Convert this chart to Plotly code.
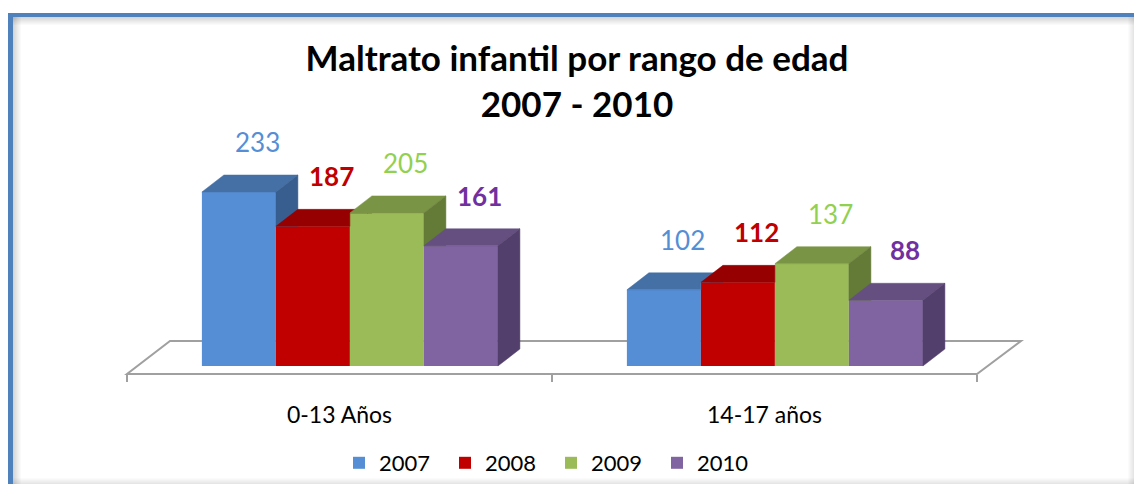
import plotly.graph_objects as go

# ---------------- data ----------------
categories = ["0-13 Años", "14-17 años"]
years = ["2007", "2008", "2009", "2010"]
v2007 = [233, 102]
v2008 = [187, 112]
v2009 = [205, 137]
v2010 = [161, 88]
series = [v2007, v2008, v2009, v2010]

front_colors = ["#558ED5", "#C00000", "#9BBB59", "#8064A2"]
top_colors = ["#4470A6", "#960000", "#7A9445", "#654F80"]
side_colors = ["#375E8F", "#7F0000", "#647A37", "#533F6B"]
label_colors = ["#558ED5", "#C00000", "#92D050", "#7030A0"]
label_bold = [False, True, False, True]

title_text = "Maltrato infantil por rango de edad<br>2007 - 2010"
FONT = "Lato"

# ---------------- layout geometry ----------------
W, H = 1134, 484
ml, mr, mt, mb = 20, 14, 130, 110
pw, ph = W - ml - mr, H - mt - mb
px_x = 425.0            # pixels per category slot
px_y = 174.0 / 233.0    # pixels per unit
x_left = -0.5 - (127 - ml) / px_x
x_right = x_left + pw / px_x
y_bottom = -(374 - 366) / px_y
y_top = y_bottom + ph / px_y

bw = 74 / px_x          # bar width
shift = 10.4 / px_x     # bars sit a bit back on the floor
ddx = 22 / px_x         # bar depth (x)
ddy = 17 / px_y         # bar depth (y)


def xp(px):
    return (px - ml) / pw


def yp(py):
    return (H - mb - py) / ph


def clip_half(poly, c):
    """keep part of polygon with y >= c"""
    out = []
    n = len(poly)
    for k in range(n):
        p, q = poly[k], poly[(k + 1) % n]
        pin, qin = p[1] >= c, q[1] >= c
        if pin:
            out.append(p)
        if pin != qin:
            t = (c - p[1]) / (q[1] - p[1])
            out.append((p[0] + t * (q[0] - p[0]), c))
    return out


fig = go.Figure()

# front faces as real bars
for i, (yr, vals) in enumerate(zip(years, series)):
    xs = [g + shift + (i - 1.5) * bw for g in range(len(categories))]
    fig.add_trace(go.Bar(
        x=xs, y=vals, width=bw, name=yr,
        marker=dict(color=front_colors[i], line=dict(width=0)),
        hoverinfo="skip",
    ))

# top and side faces (pseudo 3D)
for g in range(len(categories)):
    for i in range(len(years)):
        h = series[i][g]
        x0 = g + shift + (i - 1.5) * bw - bw / 2
        x1 = x0 + bw
        nxt = series[i + 1][g] if i + 1 < len(years) else None
        # top face
        A, B = (x0, h), (x1, h)
        C, D = (x1 + ddx, h + ddy), (x0 + ddx, h + ddy)
        if nxt is not None and nxt > h:
            c = min(nxt, h + ddy)
            t = (c - h) / ddy
            Q = (x1, c)
            P = (x1 + t * ddx, c)
            top = [A, B, Q, P, C, D] if c < h + ddy else [A, B, (x1, h + ddy), D]
        else:
            top = [A, B, C, D]
        fig.add_trace(go.Scatter(
            x=[p[0] for p in top] + [top[0][0]], y=[p[1] for p in top] + [top[0][1]],
            fill="toself", fillcolor=top_colors[i], mode="lines",
            line=dict(color=top_colors[i], width=0.5),
            showlegend=False, hoverinfo="skip"))
        # side face
        side = [(x1, 0), (x1 + ddx, ddy), (x1 + ddx, h + ddy), (x1, h)]
        if nxt is not None:
            side = clip_half(side, nxt)
        if len(side) >= 3:
            fig.add_trace(go.Scatter(
                x=[p[0] for p in side] + [side[0][0]], y=[p[1] for p in side] + [side[0][1]],
                fill="toself", fillcolor=side_colors[i], mode="lines",
                line=dict(color=side_colors[i], width=0.5),
                showlegend=False, hoverinfo="skip"))

# value labels
annotations = []
for g in range(len(categories)):
    for i in range(len(years)):
        h = series[i][g]
        cx = g + shift + (i - 1.5) * bw + 0.85 * ddx
        txt = f"<b>{h}</b>" if label_bold[i] else str(h)
        annotations.append(dict(
            x=cx, y=h, xref="x", yref="y", text=txt, showarrow=False,
            yanchor="middle", yshift=50,
            font=dict(family=FONT, size=26, color=label_colors[i])))

# floor (x in data, y in paper so it is not clipped at the bottom)
back_y = 33 / ph
fl_x = [-0.5, 1.5, 1.5 + 44 / px_x, -0.5 + 43 / px_x]
floor_path = (f"M{fl_x[0]},0 L{fl_x[1]},0 L{fl_x[2]},{back_y} "
              f"L{fl_x[3]},{back_y} Z")
shapes = [dict(type="path", xref="x", yref="paper", path=floor_path,
               line=dict(color="#A0A0A0", width=2), layer="below")]

# frame with soft shadow
for k in range(8):
    a = 0.16 * (1 - k / 8)
    col = f"rgba(0,0,0,{a:.3f})"
    shapes.append(dict(type="line", xref="paper", yref="paper",
                       x0=xp(12), x1=xp(1134), y0=yp(17.5 + k), y1=yp(17.5 + k),
                       line=dict(color=col, width=1)))
    shapes.append(dict(type="line", xref="paper", yref="paper",
                       x0=xp(13.5 + k), x1=xp(13.5 + k), y0=yp(17), y1=yp(484),
                       line=dict(color=col, width=1)))
for k in range(6):
    a = 0.10 * (k + 1) / 6
    col = f"rgba(0,0,0,{a:.3f})"
    shapes.append(dict(type="line", xref="paper", yref="paper",
                       x0=xp(1128.5 + k), x1=xp(1128.5 + k), y0=yp(17), y1=yp(484),
                       line=dict(color=col, width=1)))
    shapes.append(dict(type="line", xref="paper", yref="paper",
                       x0=xp(13), x1=xp(1134), y0=yp(478.5 + k), y1=yp(478.5 + k),
                       line=dict(color=col, width=1)))
shapes.append(dict(type="line", xref="paper", yref="paper",
                   x0=xp(8), x1=xp(1134), y0=yp(15), y1=yp(15),
                   line=dict(color="#4F81BD", width=4)))
shapes.append(dict(type="line", xref="paper", yref="paper",
                   x0=xp(10.5), x1=xp(10.5), y0=yp(13), y1=yp(484),
                   line=dict(color="#4F81BD", width=5)))

fig.update_layout(
    width=W, height=H,
    margin=dict(l=ml, r=mr, t=mt, b=mb, autoexpand=False),
    paper_bgcolor="white", plot_bgcolor="rgba(0,0,0,0)",
    barmode="overlay",
    title=dict(text=f"<b>{title_text}</b>", x=577 / W, xref="container",
               xanchor="center", y=1 - 71 / H, yref="container", yanchor="top",
               font=dict(family=FONT, size=35, color="black")),
    xaxis=dict(range=[x_left, x_right], tickvals=list(range(len(categories))),
               ticktext=categories, ticks="", showgrid=False, zeroline=False,
               showline=False, ticklabelstandoff=25, automargin=False,
               tickfont=dict(family=FONT, size=23, color="black"),
               minor=dict(tickvals=[-0.5, 0.5, 1.5], ticks="outside", ticklen=7,
                          tickwidth=2, tickcolor="#A0A0A0", showgrid=False)),
    yaxis=dict(range=[y_bottom, y_top], visible=False),
    legend=dict(orientation="h", x=xp(551), xanchor="center", y=yp(463),
                yanchor="middle", bgcolor="rgba(0,0,0,0)",
                font=dict(family=FONT, size=22, color="black"),
                entrywidth=61, traceorder="normal"),
    annotations=annotations, shapes=shapes,
    showlegend=True,
)

fig.write_html("out.html", config={"displayModeBar": False},
               post_script="document.body.style.margin='0';")
